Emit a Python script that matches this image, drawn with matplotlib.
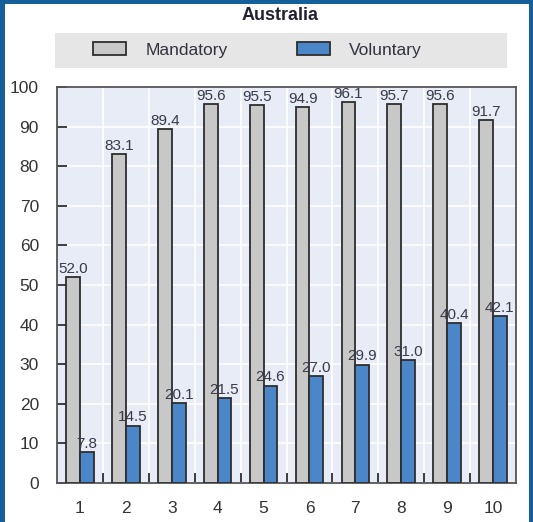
import matplotlib
matplotlib.use("Agg")
from matplotlib import pyplot as plt
from matplotlib.patches import Rectangle
import numpy as np

plt.rcParams['font.family'] = ['Liberation Sans Narrow', 'Liberation Sans', 'DejaVu Sans']

categories = ['1', '2', '3', '4', '5', '6', '7', '8', '9', '10']
mandatory = [52.0, 83.1, 89.4, 95.6, 95.5, 94.9, 96.1, 95.7, 95.6, 91.7]
voluntary = [7.8, 14.5, 20.1, 21.5, 24.6, 27.0, 29.9, 31.0, 40.4, 42.1]
title = 'Australia'

grey = '#C8C8C8'
blue = '#4A86C8'
edge = '#2E2E2E'
txt = '#3A3A48'

fig = plt.figure(figsize=(5.33, 5.22), dpi=100)
ax = fig.add_axes([57/533, 1-483/522, (516-57)/533, (483-87)/522])
ax.set_facecolor('#E8ECF7')

x = np.arange(1, len(categories)+1)
w = 0.3
b1 = ax.bar(x - w/2, mandatory, w, color=grey, edgecolor=edge, linewidth=1.3, zorder=3)
b2 = ax.bar(x + w/2, voluntary, w, color=blue, edgecolor=edge, linewidth=1.3, zorder=3)

for xi, v in zip(x - w/2, mandatory):
    ax.text(xi, v + 0.3, '%.1f' % v, ha='center', va='bottom', fontsize=11, color=txt, zorder=4)
for xi, v in zip(x + w/2, voluntary):
    ax.text(xi, v + 0.3, '%.1f' % v, ha='center', va='bottom', fontsize=11, color=txt, zorder=4)

ax.set_xlim(0.5, len(categories) + 0.5)
ax.set_ylim(0, 100)
ax.set_yticks(np.arange(0, 101, 10))
ax.set_xticks(x)
ax.set_xticklabels(categories)
ax.set_xticks(np.arange(1.5, len(categories), 1), minor=True)
ax.grid(True, which='minor', axis='x', color='white', linewidth=1.2, zorder=0)
ax.grid(True, which='major', axis='y', color='white', linewidth=1.2, zorder=0)
ax.tick_params(axis='x', which='major', length=0, pad=13, labelsize=12.5, labelcolor='#333333')
ax.tick_params(axis='x', which='minor', direction='in', length=7, width=1.3, color=edge)
ax.tick_params(axis='y', direction='in', length=7, width=1.3, color=edge, pad=13,
               labelsize=12.5, labelcolor='#333333')
for s in ax.spines.values():
    s.set_color('#555555')
    s.set_linewidth(1.3)

# legend strip
fig.patches.append(Rectangle((55/533, 1-68/522), (507-55)/533, 35/522,
                             transform=fig.transFigure, facecolor='#E6E6E6', edgecolor='none'))
fig.legend([b1, b2], ['Mandatory', 'Voluntary'], loc='center', bbox_to_anchor=(0.483, 1-50/522),
           ncol=2, frameon=False, fontsize=12.5, handlelength=1.9, handleheight=0.8,
           handletextpad=1.1, columnspacing=4.0, labelcolor='#333340')

fig.text(0.525, 1-16/522, title, ha='center', va='center', fontsize=13, fontweight='bold', color='#222233')

# blue frame
bc = '#15609A'
fig.patches.append(Rectangle((0, 0), 5/533, 1, transform=fig.transFigure, facecolor=bc, edgecolor='none'))
fig.patches.append(Rectangle((0, 1-4/522), 1, 4/522, transform=fig.transFigure, facecolor=bc, edgecolor='none'))
fig.patches.append(Rectangle((1-4/533, 0), 4/533, 1, transform=fig.transFigure, facecolor=bc, edgecolor='none'))

fig.savefig('out.png', dpi=100)
